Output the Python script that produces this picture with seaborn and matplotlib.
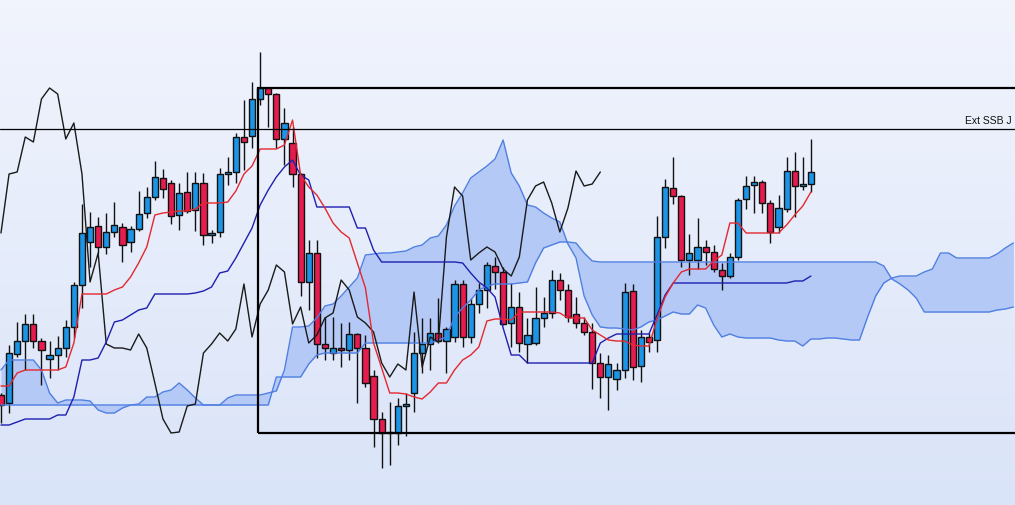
import numpy as np
import pandas as pd
import matplotlib
matplotlib.use("Agg")
import matplotlib.pyplot as plt
import seaborn as sns
from matplotlib.colors import LinearSegmentedColormap
from matplotlib.patches import Rectangle

# candle data (price units, one value per bar)
opens = [105, 97, 146, 159, 176, 159, 141, 145, 152, 173,
         215, 258, 274, 253, 268, 273, 258, 271, 287, 303,
         322, 317, 285, 308, 290, 317, 265, 268, 326, 328,
         363, 364, 401, 412, 406, 361, 357, 326, 218, 247,
         156, 147, 152, 150, 166, 152, 124, 81, 67, 67,
         94, 107, 147, 156, 167, 159, 163, 216, 163, 196,
         210, 234, 228, 177, 193, 156, 157, 182, 187, 220,
         210, 186, 177, 168, 137, 123, 121, 130, 209, 134,
         163, 160, 263, 312, 304, 240, 240, 253, 248, 230,
         224, 243, 301, 315, 318, 297, 273, 291, 329, 314,
         316]
highs = [107, 155, 178, 186, 186, 162, 159, 164, 180, 218,
         296, 288, 283, 287, 298, 277, 274, 309, 313, 339,
         331, 320, 317, 328, 328, 327, 270, 332, 343, 367,
         400, 418, 448, 413, 407, 392, 373, 327, 260, 260,
         183, 183, 177, 178, 167, 165, 130, 88, 98, 102,
         107, 168, 182, 182, 202, 173, 220, 220, 202, 217,
         238, 243, 233, 217, 208, 182, 213, 203, 230, 227,
         216, 203, 183, 177, 147, 145, 137, 217, 216, 170,
         167, 284, 321, 343, 305, 266, 282, 260, 255, 237,
         247, 302, 324, 324, 320, 300, 305, 343, 348, 343,
         361]
lows = [77, 87, 143, 130, 152, 115, 122, 130, 143, 162,
        192, 233, 247, 246, 263, 238, 248, 269, 282, 300,
        302, 276, 270, 287, 269, 255, 257, 263, 315, 317,
        330, 352, 395, 373, 352, 335, 313, 204, 190, 142,
        140, 140, 133, 140, 97, 113, 53, 32, 35, 55,
        64, 88, 127, 130, 157, 127, 158, 153, 157, 187,
        192, 211, 175, 153, 148, 137, 155, 173, 182, 200,
        178, 172, 165, 111, 102, 90, 110, 122, 120, 118,
        148, 148, 252, 296, 233, 225, 231, 235, 228, 210,
        222, 240, 291, 287, 287, 257, 267, 288, 283, 310,
        308]
closes = [95, 147, 159, 176, 159, 150, 145, 152, 173, 215,
          267, 273, 253, 268, 275, 255, 271, 286, 303, 323,
          311, 284, 307, 289, 317, 265, 267, 326, 328, 363,
          358, 401, 412, 406, 361, 377, 326, 218, 247, 156,
          152, 152, 150, 166, 152, 117, 81, 67, 68, 94,
          96, 147, 156, 167, 159, 171, 216, 163, 196, 210,
          235, 228, 176, 193, 157, 165, 182, 187, 220, 210,
          183, 177, 168, 137, 123, 136, 130, 208, 133, 163,
          158, 263, 313, 304, 240, 247, 253, 248, 231, 224,
          243, 300, 314, 318, 297, 268, 292, 329, 314, 316,
          328]

# ichimoku lines
tenkan = [114, 114, 127, 130, 130, 130, 130, 130, 133, 157,
          206, 206, 206, 206, 210, 213, 223, 237, 253, 285,
          287, 288, 289, 289, 291, 297, 297, 297, 298, 309,
          326, 334, 351, 351, 351, 355, 380, 325, 313, 305,
          292, 277, 268, 262, 237, 212, 157, 132, 107, 107,
          106, 103, 101, 108, 117, 117, 130, 140, 145, 153,
          179, 181, 181, 180, 188, 188, 188, 188, 188, 187,
          182, 182, 182, 170, 165, 160, 159, 159, 155, 154,
          154, 181, 203, 217, 228, 231, 231, 231, 239, 245,
          277, 277, 267, 267, 267, 267, 267, 275, 285, 294,
          308]
kijun = [75, 75, 78, 81, 81, 81, 81, 85, 85, 103,
         140, 140, 142, 158, 178, 180, 185, 190, 192, 206,
         206, 206, 206, 206, 207, 209, 213, 227, 229, 242,
         257, 272, 295, 310, 323, 333, 340, 325, 320, 293,
         293, 293, 293, 293, 272, 272, 250, 238, 238, 238,
         238, 238, 238, 238, 238, 238, 238, 237, 227, 218,
         212, 203, 172, 145, 145, 137, 137, 137, 137, 137,
         137, 137, 137, 137, 157, 162, 166, 166, 166, 166,
         166, 185, 205, 217, 217, 217, 217, 217, 217, 217,
         217, 217, 217, 217, 217, 217, 217, 217, 219, 219,
         224]
span_a = [130, 140, 140, 140, 140, 130, 107, 97, 100, 100,
          100, 99, 90, 87, 87, 92, 95, 96, 103, 103,
          108, 110, 117, 110, 102, 95, 95, 95, 102, 105,
          105, 105, 105, 107, 109, 130, 173, 173, 174, 182,
          194, 196, 204, 213, 222, 245, 246, 247, 247, 248,
          249, 253, 255, 262, 264, 275, 294, 307, 322, 328,
          334, 341, 360, 327, 314, 295, 293, 287, 282, 278,
          256, 242, 204, 185, 173, 172, 172, 171, 170, 173,
          178, 180, 184, 188, 186, 186, 195, 192, 175, 163,
          166, 163, 162, 162, 162, 162, 160, 159, 159, 154,
          161, 161, 162, 162, 161, 160, 160, 183, 204, 217,
          222, 224, 224, 224, 228, 231, 247, 247, 242, 242,
          242, 242, 242, 246, 252, 257]
span_b = [95, 95, 95, 95, 95, 95, 95, 95, 95, 95,
          95, 95, 95, 95, 95, 95, 95, 95, 95, 95,
          95, 95, 95, 95, 95, 95, 95, 95, 95, 95,
          95, 95, 95, 95, 123, 123, 123, 123, 136, 145,
          147, 147, 147, 147, 147, 157, 157, 157, 157, 157,
          157, 157, 157, 157, 160, 163, 183, 192, 200, 210,
          214, 216, 216, 216, 217, 218, 237, 252, 255, 258,
          258, 257, 247, 239, 238, 238, 238, 238, 238, 238,
          238, 238, 238, 238, 238, 238, 238, 238, 238, 238,
          238, 238, 238, 238, 238, 238, 238, 238, 238, 238,
          238, 238, 238, 238, 238, 238, 238, 238, 238, 234,
          221, 216, 210, 202, 188, 188, 188, 188, 188, 188,
          188, 188, 188, 190, 191, 193]

chikou_shift = 26
ext_ssb_level = 371
ext_ssb_label = "Ext SSB J"
box_start = 31.7
box_top = 412
box_bottom = 67

UP = "#1d95e6"
DOWN = "#e61c4e"

df = pd.DataFrame({"open": opens, "high": highs, "low": lows, "close": closes})
df["idx"] = np.arange(len(df))
df["up"] = df["close"] >= df["open"]

cloud = pd.DataFrame({"idx": np.arange(len(span_a)), "a": span_a, "b": span_b})
chikou = pd.DataFrame({"idx": df["idx"][:len(df) - chikou_shift].values,
                       "val": df["close"][chikou_shift:].values})

sns.set_theme(style="white")
fig = plt.figure(figsize=(10.15, 5.05), dpi=100)
ax = fig.add_axes([0, 0, 1, 1])

x0, x1 = -0.12, 125.2
y0, y1 = -5, 500

# soft vertical background gradient
bg = LinearSegmentedColormap.from_list("bg", ["#f1f4fd", "#dae4f8"])
ax.imshow(np.linspace(0, 1, 256).reshape(-1, 1), extent=[x0, x1, y0, y1],
          aspect="auto", cmap=bg, origin="upper", zorder=0)

# kumo
ax.fill_between(cloud["idx"], cloud["a"], cloud["b"], color="#b5c9f7", lw=0, zorder=1)

# candles
ax.vlines(df["idx"], df["low"], df["high"], color="#111111", lw=1.0, zorder=2)
body_lo = df[["open", "close"]].min(axis=1)
body_h = (df["close"] - df["open"]).abs().clip(lower=1)
ax.bar(df["idx"], body_h, bottom=body_lo, width=0.76,
       color=np.where(df["up"], UP, DOWN), edgecolor="#111111", linewidth=1.0, zorder=3)

# lines
sns.lineplot(data=cloud, x="idx", y="a", ax=ax, color="#4f7fe2", lw=1.0, zorder=4)
sns.lineplot(data=cloud, x="idx", y="b", ax=ax, color="#4f7fe2", lw=1.0, zorder=4)
sns.lineplot(data=chikou, x="idx", y="val", ax=ax, color="#1a1a1a", lw=1.0, zorder=5)
sns.lineplot(data=df, x="idx", y=kijun, ax=ax, color="#1f1fb0", lw=1.0, zorder=5)
sns.lineplot(data=df, x="idx", y=tenkan, ax=ax, color="#e3282f", lw=1.0, zorder=5)

# extension level and box
ax.axhline(ext_ssb_level, color="black", lw=0.9, zorder=6)
ax.text(0.997, ext_ssb_level + 3.5, ext_ssb_label, transform=ax.get_yaxis_transform(),
        ha="right", va="bottom", fontsize=7.5, family=["Liberation Sans", "DejaVu Sans"],
        color="#111111", zorder=7)
ax.add_patch(Rectangle((box_start, box_bottom), 200, box_top - box_bottom,
                       fill=False, edgecolor="black", lw=1.6, zorder=6))

ax.set_xlim(x0, x1)
ax.set_ylim(y0, y1)
ax.axis("off")
fig.savefig("out.png", dpi=100)
